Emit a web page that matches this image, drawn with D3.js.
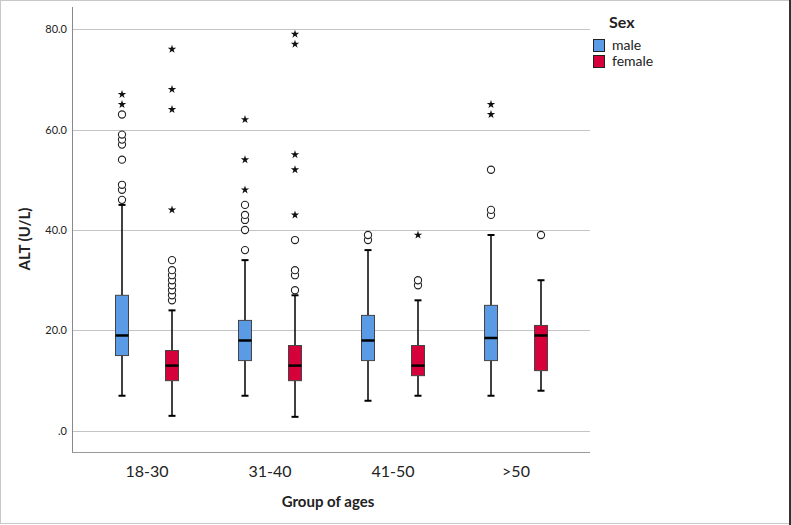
<!DOCTYPE html>
<html><head><meta charset="utf-8">
<script src="https://cdn.jsdelivr.net/npm/d3@7"></script>
<style>body{margin:0;background:#fff;} svg{display:block;}</style>
</head><body>
<svg id="c" width="791" height="525"></svg>
<script>
const groups = ["18-30", "31-40", "41-50", ">50"];
const sexes = ["male", "female"];
const yTicks = [0, 20, 40, 60, 80];

const maleMin = [7, 7, 6, 7];
const maleQ1 = [15, 14, 14, 14];
const maleMedian = [19, 18, 18, 18.5];
const maleQ3 = [27, 22, 23, 25];
const maleMax = [45, 34, 36, 39];
const maleOutliers = [[46, 48, 49, 54, 57, 58, 59, 63], [36, 40, 42, 43, 45], [38, 39], [43, 44, 52]];
const maleExtremes = [[65, 67], [48, 54, 62], [], [63, 65]];

const femaleMin = [3, 2.8, 7, 8];
const femaleQ1 = [10, 10, 11, 12];
const femaleMedian = [13, 13, 13, 19];
const femaleQ3 = [16, 17, 17, 21];
const femaleMax = [24, 27, 26, 30];
const femaleOutliers = [[26, 27, 28, 29, 30, 31, 32, 34], [28, 31, 32, 38], [29, 30], [39]];
const femaleExtremes = [[44, 64, 68, 76], [43, 52, 55, 77, 79], [39], []];

const colors = {male: "#5b9be6", female: "#d6003a"};
const FONT = "Lato, 'DejaVu Sans', sans-serif";

const series = {
  male: {min: maleMin, q1: maleQ1, med: maleMedian, q3: maleQ3, max: maleMax, out: maleOutliers, ext: maleExtremes},
  female: {min: femaleMin, q1: femaleQ1, med: femaleMedian, q3: femaleQ3, max: femaleMax, out: femaleOutliers, ext: femaleExtremes}
};

const svg = d3.select("#c");
// frame
svg.append("rect").attr("x", 0.5).attr("y", 0.5).attr("width", 789).attr("height", 523)
  .attr("fill", "none").attr("stroke", "#c8c8c8");
svg.append("line").attr("x1", 790).attr("x2", 790).attr("y1", 0).attr("y2", 525)
  .attr("stroke", "#333").attr("stroke-width", 2);

const plotL = 72, plotR = 590, plotT = 7, plotB = 452;
const y = d3.scaleLinear().domain([-4.2, 84.4]).range([plotB, plotT]);
const x = d3.scaleBand().domain(groups).range([85.5, 577.5]);
const xs = d3.scalePoint().domain(sexes).range([36.5, 86.5]);

// gridlines
svg.append("g").selectAll("line").data(yTicks).join("line")
  .attr("x1", plotL).attr("x2", plotR)
  .attr("y1", d => Math.round(y(d)) + 0.5).attr("y2", d => Math.round(y(d)) + 0.5)
  .attr("stroke", "#c4c4c4").attr("stroke-width", 1);

// y axis
const yAxis = d3.axisLeft(y).tickValues(yTicks).tickSize(0).tickPadding(5)
  .tickFormat(d => d === 0 ? ".0" : d3.format(".1f")(d));
const gy = svg.append("g").attr("transform", `translate(${plotL},0)`).call(yAxis);
gy.select(".domain").remove();
gy.selectAll("text").attr("font-family", FONT).attr("font-size", 11).attr("fill", "#222");
svg.append("line").attr("x1", plotL + 0.5).attr("x2", plotL + 0.5).attr("y1", plotT).attr("y2", plotB)
  .attr("stroke", "#888");

// x axis
const xAxis = d3.axisBottom(x).tickSize(0).tickPadding(14);
const gx = svg.append("g").attr("transform", `translate(0,${plotB})`).call(xAxis);
gx.select(".domain").remove();
gx.selectAll("text").attr("font-family", FONT).attr("font-size", 16).attr("fill", "#222");
svg.append("line").attr("x1", plotL).attr("x2", plotR).attr("y1", plotB + 0.5).attr("y2", plotB + 0.5)
  .attr("stroke", "#999");

// titles
svg.append("text").attr("x", 328).attr("y", 507).attr("text-anchor", "middle")
  .attr("font-family", FONT).attr("font-weight", "bold").attr("font-size", 15).attr("fill", "#222")
  .text("Group of ages");
svg.append("text").attr("transform", "translate(30,239) rotate(-90)").attr("text-anchor", "middle")
  .attr("font-family", FONT).attr("font-weight", "bold").attr("font-size", 15).attr("fill", "#222")
  .text("ALT (U/L)");

// boxes
const boxW = 13, capW = 7;
sexes.forEach(s => {
  const d = series[s];
  groups.forEach((g, i) => {
    const cx = x(g) + xs(s);
    const gg = svg.append("g");
    // whiskers
    gg.append("line").attr("x1", cx).attr("x2", cx).attr("y1", y(d.q3[i])).attr("y2", y(d.max[i]))
      .attr("stroke", "#000").attr("stroke-width", 1.5);
    gg.append("line").attr("x1", cx).attr("x2", cx).attr("y1", y(d.q1[i])).attr("y2", y(d.min[i]))
      .attr("stroke", "#000").attr("stroke-width", 1.5);
    [d.max[i], d.min[i]].forEach(v => {
      gg.append("line").attr("x1", cx - capW / 2).attr("x2", cx + capW / 2).attr("y1", y(v)).attr("y2", y(v))
        .attr("stroke", "#000").attr("stroke-width", 2);
    });
    gg.append("rect").attr("x", cx - boxW / 2).attr("width", boxW)
      .attr("y", y(d.q3[i])).attr("height", y(d.q1[i]) - y(d.q3[i]))
      .attr("fill", colors[s]).attr("stroke", "#444").attr("stroke-width", 1);
    gg.append("line").attr("x1", cx - boxW / 2).attr("x2", cx + boxW / 2)
      .attr("y1", y(d.med[i])).attr("y2", y(d.med[i]))
      .attr("stroke", "#000").attr("stroke-width", 2.5);
    // outliers
    gg.selectAll("circle").data(d.out[i]).join("circle")
      .attr("cx", cx).attr("cy", v => y(v)).attr("r", 3.6)
      .attr("fill", "#fff").attr("stroke", "#222").attr("stroke-width", 1.1);
    // extremes
    gg.selectAll("path.ext").data(d.ext[i]).join("path").attr("class", "ext")
      .attr("transform", v => `translate(${cx},${y(v)})`)
      .attr("d", d3.symbol(d3.symbolStar, 22))
      .attr("fill", "#111");
  });
});

// legend
svg.append("text").attr("x", 609).attr("y", 28).attr("font-family", FONT).attr("font-weight", "bold")
  .attr("font-size", 16).attr("fill", "#222").text("Sex");
sexes.forEach((s, k) => {
  const ly = 39.5 + k * 16;
  svg.append("rect").attr("x", 593.5).attr("y", ly).attr("width", 11).attr("height", 12)
    .attr("fill", colors[s]).attr("stroke", "#222").attr("stroke-width", 1);
  svg.append("text").attr("x", 612).attr("y", ly + 10.5).attr("font-family", FONT)
    .attr("font-size", 14).attr("fill", "#222").text(s);
});
</script>
</body></html>
